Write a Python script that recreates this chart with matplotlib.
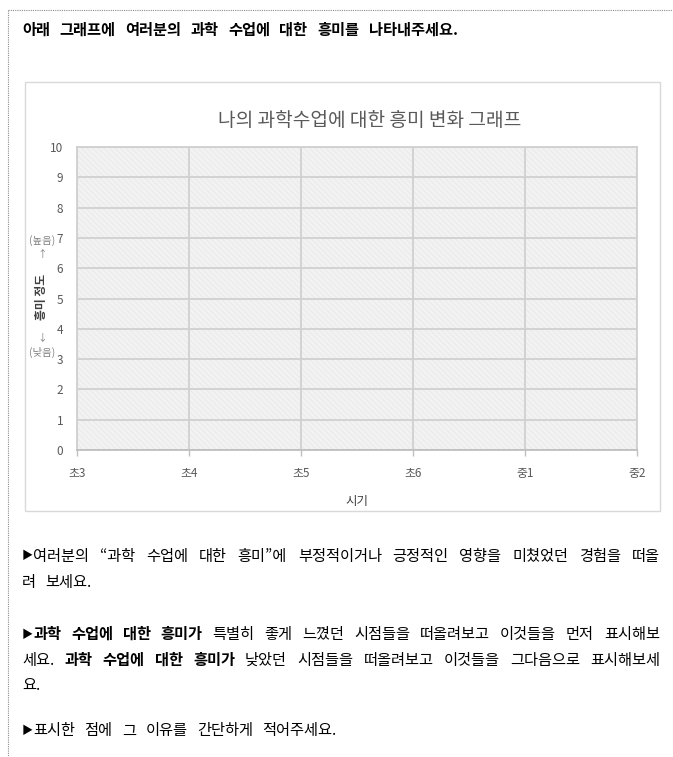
import matplotlib
matplotlib.use('Agg')
import matplotlib.pyplot as plt
from matplotlib.patches import Rectangle
from matplotlib.lines import Line2D

plt.rcParams['font.family'] = ['Noto Sans CJK KR', 'DejaVu Sans']
plt.rcParams['hatch.linewidth'] = 0.4

W, H = 673, 757

# chart data
categories = ['초3', '초4', '초5', '초6', '중1', '중2']
interest_ticks = list(range(0, 11))
chart_title = '나의 과학수업에 대한 흥미 변화 그래프'
x_label = '시기'
y_label = '흥미 정도'
y_high = '(높음)'
y_low = '(낮음)'

# worksheet text
intro = '아래 그래프에 여러분의 과학 수업에 대한 흥미를 나타내주세요.'
para_lines = [
    [('▶여러분의 “과학 수업에 대한 흥미”에 부정적이거나 긍정적인 영향을 미쳤었던 경험을 떠올', False)],
    [('려 보세요.', False)],
    [('▶과학 수업에 대한 흥미가', True), ('특별히 좋게 느꼈던 시점들을 떠올려보고 이것들을 먼저 표시해보', False)],
    [('세요.', False), ('과학 수업에 대한 흥미가', True), ('낮았던 시점들을 떠올려보고 이것들을 그다음으로 표시해보세', False)],
    [('요.', False)],
    [('▶표시한 점에 그 이유를 간단하게 적어주세요.', False)],
]
line_y = [556, 583, 634, 660, 686, 731]
justified = [True, False, True, True, False, False]

fig = plt.figure(figsize=(W / 100, H / 100), dpi=100)
renderer = fig.canvas.get_renderer()


def fx(px):
    return px / W


def fy(py):
    return 1 - py / H


# dotted page border
fig.add_artist(Line2D([fx(8), 1], [fy(10), fy(10)], color='#8c8c8c', lw=0.8, ls=(0, (1, 1))))
fig.add_artist(Line2D([fx(8), fx(8)], [fy(10), 0], color='#8c8c8c', lw=0.8, ls=(0, (1, 1))))

# chart frame (behind the axes)
frame = Rectangle((fx(25), fy(511)), fx(660) - fx(25), fy(82) - fy(511),
                  transform=fig.transFigure, facecolor='white', edgecolor='#d9d9d9', lw=1, zorder=-5)
fig.add_artist(frame)

ax = fig.add_axes([fx(77), fy(450), fx(637) - fx(77), fy(147) - fy(450)])
ax.set_zorder(2)
ax.set_facecolor('#f2f2f2')
ax.add_patch(Rectangle((0, 0), 1, 1, transform=ax.transAxes, facecolor='none',
                       edgecolor='#e4e4e4', hatch='\\\\\\\\\\\\', lw=0, zorder=0))
ax.set_xlim(0, len(categories) - 1)
ax.set_ylim(interest_ticks[0], interest_ticks[-1])
ax.set_xticks(range(len(categories)), categories)
ax.set_yticks(interest_ticks)
ax.grid(True, color='#d0d0d0', lw=1.3)
ax.set_axisbelow(True)
for s in ax.spines.values():
    s.set_color('#d0d0d0')
    s.set_linewidth(1.3)
ax.spines['bottom'].set_color('#bfbfbf')
ax.tick_params(axis='x', colors='#bfbfbf', labelcolor='#595959', length=4, width=1, labelsize=8.5, pad=8)
ax.tick_params(axis='y', length=0, labelcolor='#595959', labelsize=8.5, pad=10)
ax.set_xlabel(x_label, fontsize=9, color='#404040', labelpad=11)

fig.text(fx(370), fy(120), chart_title, fontsize=13.8, color='#595959', ha='center', va='center')
fig.text(fx(42), fy(297), y_label, fontsize=8.5, fontweight='bold', color='#404040',
         rotation=90, ha='center', va='center')
fig.text(fx(42), fy(241), y_high, fontsize=7.5, color='#7f7f7f', ha='center', va='center')
fig.text(fx(42), fy(254), '↑', fontsize=7, color='#7f7f7f', ha='center', va='center')
fig.text(fx(42), fy(337), '↓', fontsize=7, color='#7f7f7f', ha='center', va='center')
fig.text(fx(42), fy(352), y_low, fontsize=7.5, color='#7f7f7f', ha='center', va='center')


def draw_line(parts, y_px, full, left=22, right=660, gap_px=9.5):
    # each entry: text, bold, font size, space after it
    words = []
    for chunk, bold in parts:
        for w in chunk.split(' '):
            if w.startswith('▶'):
                words.append(('▶', bold, 8, False))
                w = w[1:]
            words.append((w, bold, 11, True))
    texts = [fig.text(0, fy(y_px), w, fontsize=sz, fontweight='bold' if b else 'normal',
                      color='black', ha='left', va='center') for w, b, sz, _ in words]
    widths = [t.get_window_extent(renderer).width for t in texts]
    n_gaps = sum(1 for w in words[:-1] if w[3])
    if full and n_gaps > 0:
        gap = (right - left - sum(widths)) / n_gaps
    else:
        gap = gap_px
    x = left
    for t, w, wd in zip(texts, words, widths):
        t.set_x(fx(x))
        x += wd + (gap if w[3] else 0)


draw_line([(intro, True)], 30, False)
for parts, y, full in zip(para_lines, line_y, justified):
    draw_line(parts, y, full)

fig.savefig('out.png', dpi=100)
